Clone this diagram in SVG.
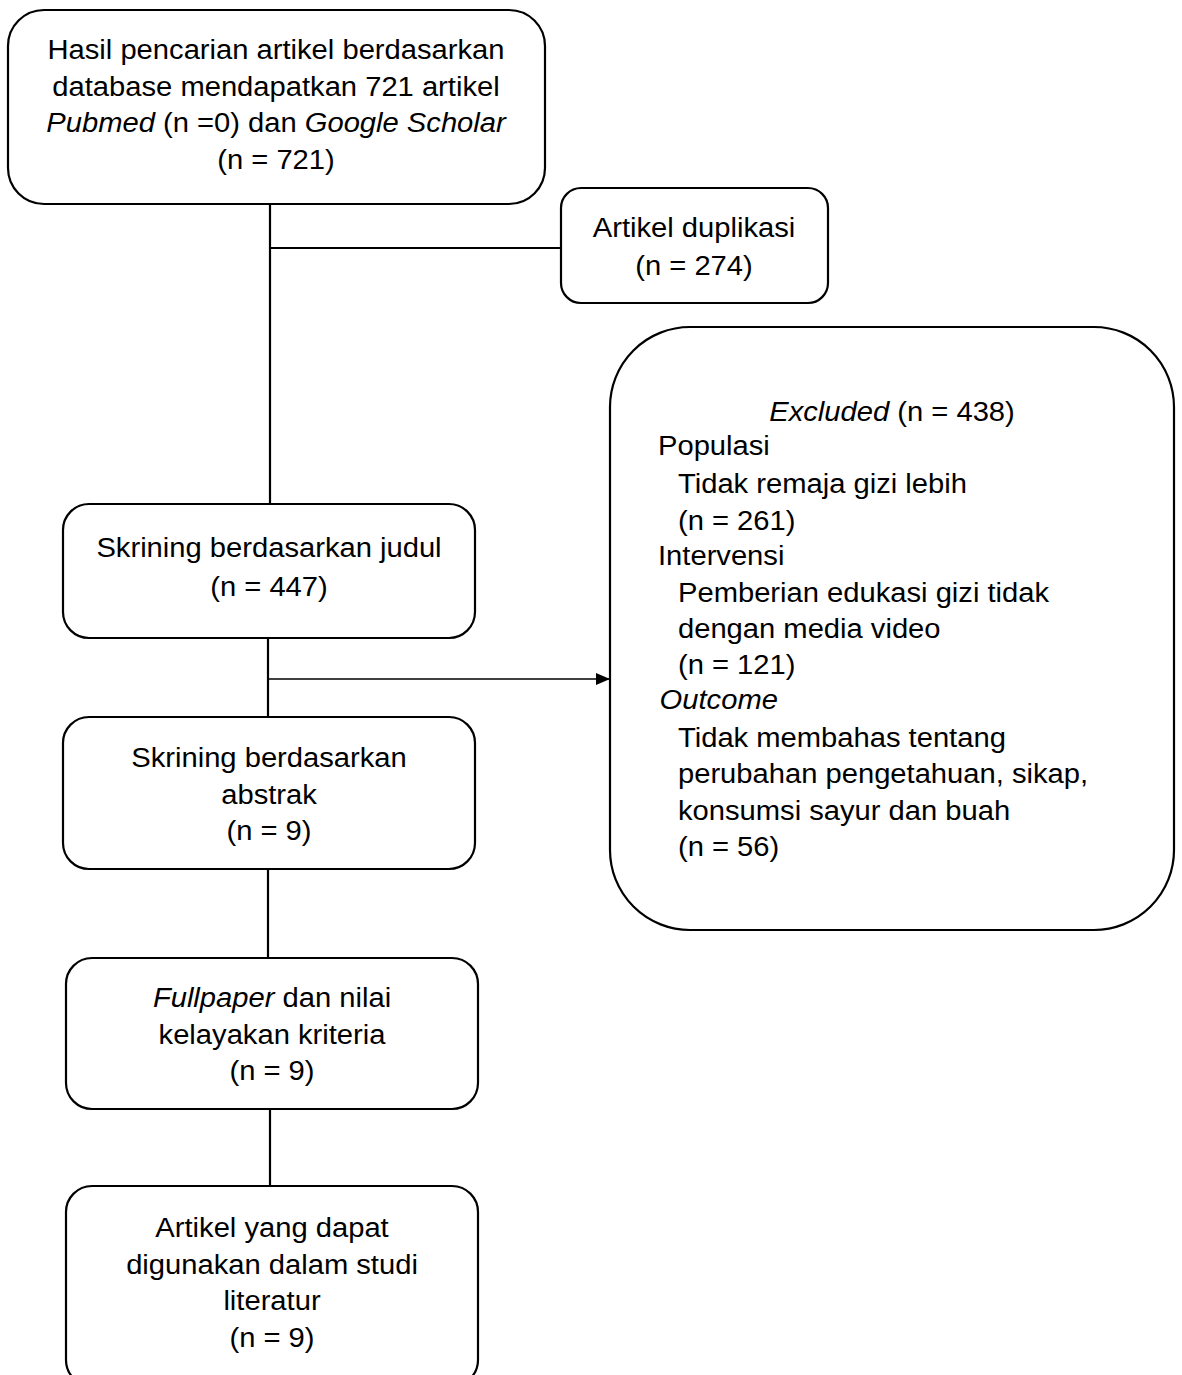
<svg xmlns="http://www.w3.org/2000/svg" width="1182" height="1375" viewBox="0 0 1182 1375">
<style>
.box{fill:#fff;stroke:#000;stroke-width:2.2}
.t{font-family:"Liberation Sans",Arial,sans-serif;font-size:27px;fill:#000}
.c{text-anchor:middle}
.i{font-style:italic}
.ln{stroke:#000;stroke-width:2.2;fill:none}
.thin{stroke:#000;stroke-width:1.4;fill:none}
</style>
<defs>
<marker id="arr" markerWidth="14" markerHeight="12" refX="14" refY="6" orient="auto" markerUnits="userSpaceOnUse">
<path d="M0,0 L14,6 L0,12 Z" fill="#000"/>
</marker>
</defs>
<rect width="1182" height="1375" fill="#fff"/>
<g id="connectors">
<path class="ln" d="M270,204 V505"/>
<path class="ln" d="M270,248 H561"/>
<path class="ln" d="M268,638 V717"/>
<path class="thin" d="M268,679 H610" marker-end="url(#arr)"/>
<path class="ln" d="M268,869 V958"/>
<path class="ln" d="M270,1103 V1186"/>
</g>
<g id="n1">
<rect class="box" x="8" y="10" width="537" height="194" rx="36"/>
<g transform="translate(276,0) scale(1.08,1)">
<text class="t c" x="0" y="59">Hasil pencarian artikel berdasarkan</text>
<text class="t c" x="0" y="96">database mendapatkan 721 artikel</text>
<text class="t c" x="0" y="132"><tspan class="i">Pubmed</tspan> (n =0) dan <tspan class="i">Google Scholar</tspan></text>
<text class="t c" x="0" y="169">(n = 721)</text>
</g>
</g>
<g id="n2">
<rect class="box" x="561" y="188" width="267" height="115" rx="20"/>
<g transform="translate(694,0) scale(1.08,1)">
<text class="t c" x="0" y="237">Artikel duplikasi</text>
<text class="t c" x="0" y="275">(n = 274)</text>
</g>
</g>
<g id="n3">
<rect class="box" x="610" y="327" width="564" height="603" rx="80"/>
<g transform="translate(892,0) scale(1.08,1)">
<text class="t c" x="0" y="421"><tspan class="i">Excluded</tspan> (n = 438)</text>
</g>
<g transform="translate(658,0) scale(1.08,1)">
<text class="t" x="0" y="455">Populasi</text>
<text class="t" x="18.5" y="493">Tidak remaja gizi lebih</text>
<text class="t" x="18.5" y="530">(n = 261)</text>
<text class="t" x="0" y="565">Intervensi</text>
<text class="t" x="18.5" y="602">Pemberian edukasi gizi tidak</text>
<text class="t" x="18.5" y="638">dengan media video</text>
<text class="t" x="18.5" y="674">(n = 121)</text>
<text class="t i" x="1.5" y="709">Outcome</text>
<text class="t" x="18.5" y="747">Tidak membahas tentang</text>
<text class="t" x="18.5" y="783">perubahan pengetahuan, sikap,</text>
<text class="t" x="18.5" y="820">konsumsi sayur dan buah</text>
<text class="t" x="18.5" y="856">(n = 56)</text>
</g>
</g>
<g id="n4">
<rect class="box" x="63" y="504" width="412" height="134" rx="26"/>
<g transform="translate(269,0) scale(1.08,1)">
<text class="t c" x="0" y="557">Skrining berdasarkan judul</text>
<text class="t c" x="0" y="596">(n = 447)</text>
</g>
</g>
<g id="n5">
<rect class="box" x="63" y="717" width="412" height="152" rx="26"/>
<g transform="translate(269,0) scale(1.08,1)">
<text class="t c" x="0" y="767">Skrining berdasarkan</text>
<text class="t c" x="0" y="804">abstrak</text>
<text class="t c" x="0" y="840">(n = 9)</text>
</g>
</g>
<g id="n6">
<rect class="box" x="66" y="958" width="412" height="151" rx="26"/>
<g transform="translate(272,0) scale(1.08,1)">
<text class="t c" x="0" y="1007"><tspan class="i">Fullpaper</tspan> dan nilai</text>
<text class="t c" x="0" y="1044">kelayakan kriteria</text>
<text class="t c" x="0" y="1080">(n = 9)</text>
</g>
</g>
<g id="n7">
<rect class="box" x="66" y="1186" width="412" height="200" rx="26"/>
<g transform="translate(272,0) scale(1.08,1)">
<text class="t c" x="0" y="1237">Artikel yang dapat</text>
<text class="t c" x="0" y="1274">digunakan dalam studi</text>
<text class="t c" x="0" y="1310">literatur</text>
<text class="t c" x="0" y="1347">(n = 9)</text>
</g>
</g>
</svg>
